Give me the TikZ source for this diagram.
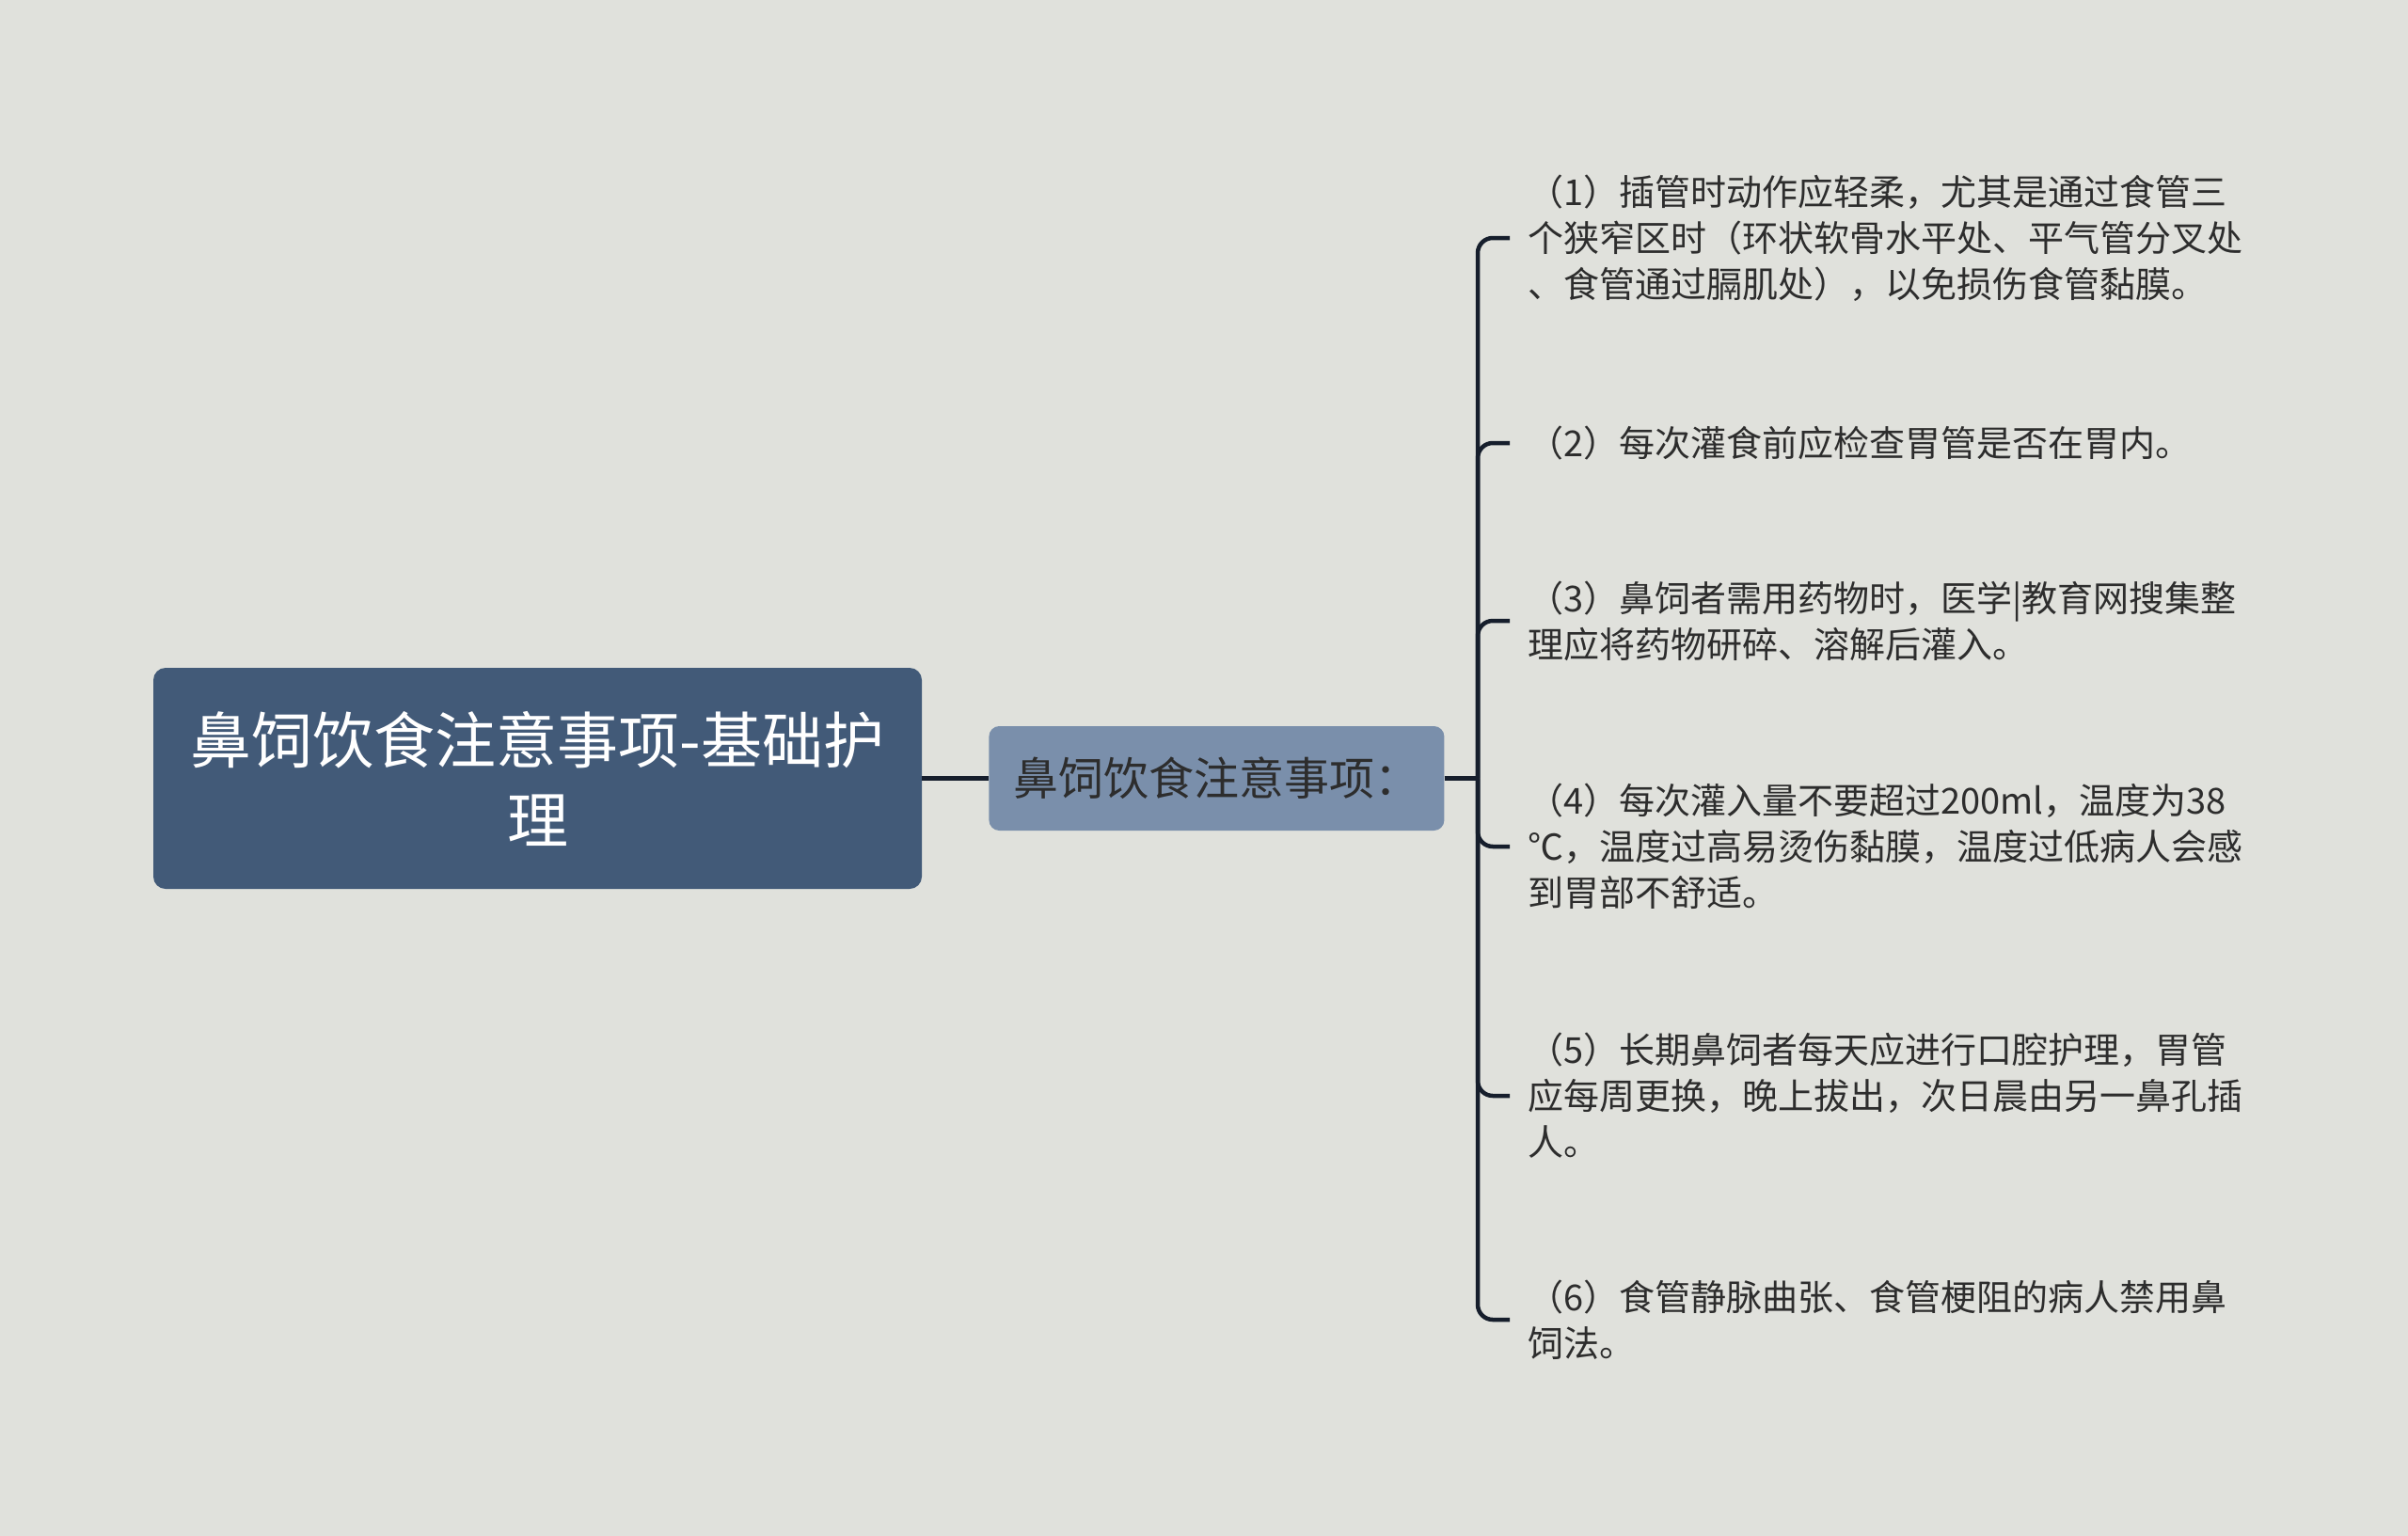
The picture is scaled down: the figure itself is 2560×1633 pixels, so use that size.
\documentclass[tikz,border=0pt]{standalone}
\usepackage{fontspec}
\setmainfont{Noto Sans CJK SC}
\usetikzlibrary{positioning}
\definecolor{bgcol}{RGB}{224,225,220}
\definecolor{rootcol}{RGB}{66,90,120}
\definecolor{subcol}{RGB}{122,143,171}
\definecolor{linecol}{RGB}{22,30,44}
\definecolor{txtcol}{RGB}{45,45,45}
\tikzstyle{rootbox} = [fill=rootcol, text=white, rounded corners=13pt,
    minimum width=817pt, minimum height=235pt, inner sep=0pt,
    align=center, font=\fontsize{65}{85}\selectfont]
\tikzstyle{subbox} = [fill=subcol, text=txtcol, rounded corners=11pt,
    minimum width=484pt, minimum height=111pt, inner sep=0pt,
    font=\fontsize{48}{56}\selectfont]
\tikzstyle{leaf} = [anchor=west, align=left, text=txtcol, inner xsep=19pt,
    inner ysep=0pt, font=\fontsize{38}{49}\selectfont]
\tikzstyle{branch} = [draw=linecol, line width=4.5pt, rounded corners=16pt]

\begin{document}
\begin{tikzpicture}[x=1pt, y=-1pt]
    \fill [bgcol] (0,0) rectangle (2560,1633);
    \useasboundingbox (0,0) rectangle (2560,1633);
    \node [rootbox] (root) at (571.5,827.5) {鼻饲饮食注意事项-基础护\\理};
    \node [subbox, right=71pt of root] (sub) {鼻饲饮食注意事项：};
    \coordinate (fork) at (1571,827.5);
    \node [leaf] (n1) at (1605,253) {（1）插管时动作应轻柔，尤其是通过食管三\\个狭窄区时（环状软骨水平处、平气管分叉处\\、食管通过膈肌处），以免损伤食管黏膜。};
    \node [leaf] (n2) at (1605,471) {（2）每次灌食前应检查胃管是否在胃内。};
    \node [leaf] (n3) at (1605,660) {（3）鼻饲者需用药物时，医学|教育网搜集整\\理应将药物研碎、溶解后灌入。};
    \node [leaf] (n4) at (1605,900) {（4）每次灌入量不要超过200ml，温度为38\\℃，温度过高易烫伤黏膜，温度过低病人会感\\到胃部不舒适。};
    \node [leaf] (n5) at (1605,1165) {（5）长期鼻饲者每天应进行口腔护理，胃管\\应每周更换，晚上拔出，次日晨由另一鼻孔插\\人。};
    \node [leaf] (n6) at (1605,1403) {（6）食管静脉曲张、食管梗阻的病人禁用鼻\\饲法。};
    \draw [branch] (root) -- (sub);
    \draw [branch] (sub.east) -- (fork);
    \foreach \i in {1,...,6}
        \draw [branch] (fork) |- (n\i.west);
\end{tikzpicture}
\end{document}
